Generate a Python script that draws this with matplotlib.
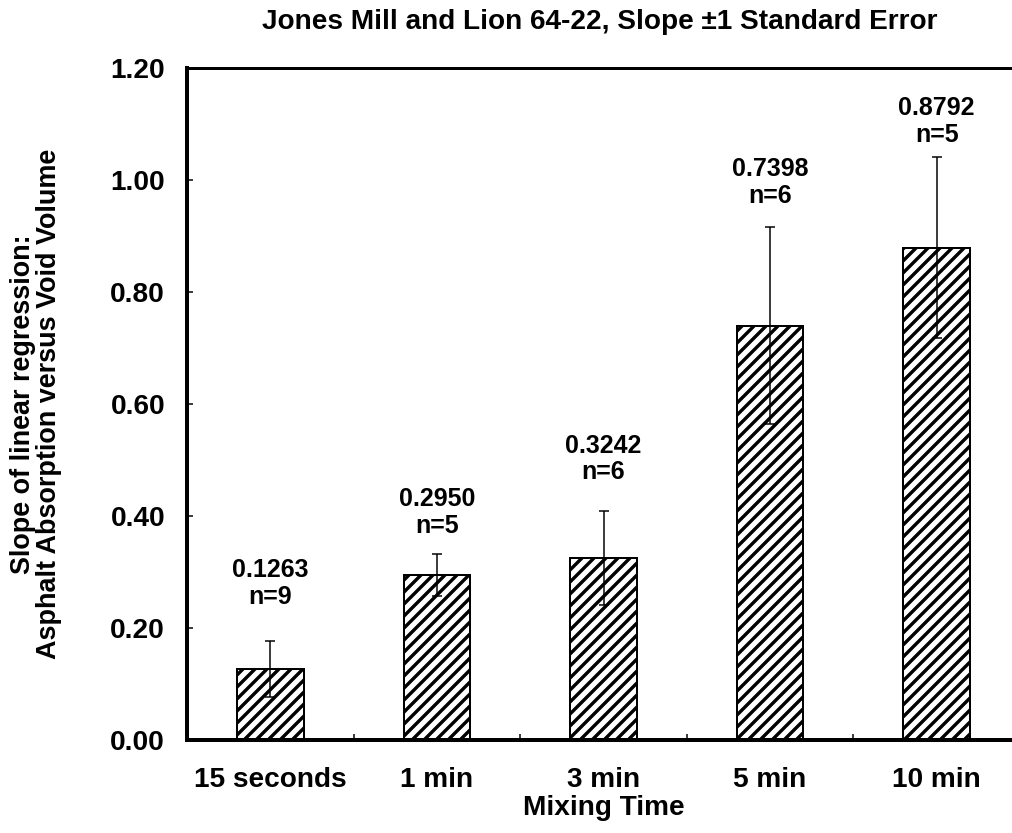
import matplotlib
matplotlib.use("Agg")
import matplotlib.pyplot as plt
import numpy as np

categories = ["15 seconds", "1 min", "3 min", "5 min", "10 min"]
slopes = [0.1263, 0.2950, 0.3242, 0.7398, 0.8792]
std_errors = [0.050, 0.038, 0.084, 0.176, 0.162]
n_values = [9, 5, 6, 6, 5]
yticks = [0.00, 0.20, 0.40, 0.60, 0.80, 1.00, 1.20]

label_gaps_px = [32, 16, 27, 19, 10]

DPI = 72
plt.rcParams['font.family'] = ['Liberation Sans', 'DejaVu Sans']
plt.rcParams['font.weight'] = 'bold'
plt.rcParams['hatch.linewidth'] = 3.4
plt.rcParams['hatch.color'] = 'black'

W, H = 1012, 833
fig = plt.figure(figsize=(W / DPI, H / DPI), dpi=DPI)
ax = fig.add_axes([187 / W, (H - 740) / H, (1020 - 187) / W, (740 - 68) / H])

x = np.arange(len(categories))
ax.bar(x, slopes, width=0.4, color='white', edgecolor='black', linewidth=2,
       hatch='//', zorder=2)
ax.errorbar(x, slopes, yerr=std_errors, fmt='none', ecolor='black',
            elinewidth=1.5, capsize=5, capthick=1.5, zorder=3)

for xi, v, e, n, g in zip(x, slopes, std_errors, n_values, label_gaps_px):
    ax.annotate(f"{v:.4f}\nn={n}", xy=(xi, v + e), xytext=(0, g),
                textcoords='offset points', ha='center', va='bottom',
                fontsize=25, fontweight='bold', linespacing=1.15)

ax.set_xlim(-0.5, len(categories) - 0.5)
ax.set_ylim(0, 1.2)
ax.set_yticks(yticks)
ax.set_yticklabels([f"{t:.2f}" for t in yticks])
ax.set_xticks(x)
ax.set_xticklabels(categories)
ax.set_xticks(np.arange(len(categories) + 1) - 0.5, minor=True)

ax.tick_params(axis='x', which='major', length=0, pad=27, labelsize=28)
ax.tick_params(axis='x', which='minor', direction='in', length=6, width=1.5)
ax.tick_params(axis='y', which='major', direction='in', length=6, width=1.5,
               pad=22, labelsize=28)

for side in ['left', 'bottom']:
    ax.spines[side].set_linewidth(4)
ax.spines['top'].set_linewidth(3)
ax.spines['right'].set_linewidth(3)

ax.set_xlabel("Mixing Time", fontsize=28, fontweight='bold', labelpad=2)
ax.set_ylabel("Slope of linear regression:\nAsphalt Absorption versus Void Volume",
              fontsize=27, fontweight='bold', labelpad=48, linespacing=1.0)
fig.text(600 / W, 1 - 22 / H, "Jones Mill and Lion 64-22, Slope \u00b11 Standard Error",
         ha='center', va='center', fontsize=28, fontweight='bold')

fig.savefig("out.png", dpi=DPI)
